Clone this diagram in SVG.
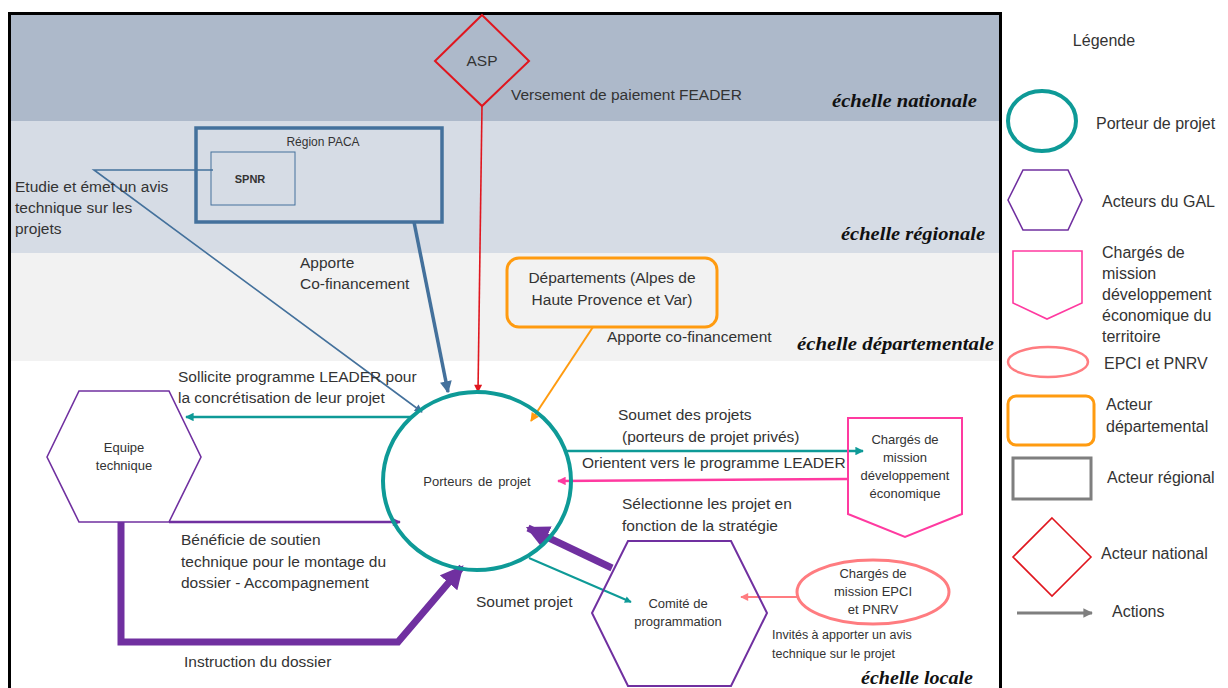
<svg xmlns="http://www.w3.org/2000/svg" width="1228" height="688" viewBox="0 0 1228 688">
<defs>
<style>
text{font-family:"Liberation Sans",Arial,sans-serif;fill:#333;}
.t{font-size:15.5px;}
.s{font-size:13px;}
.xs{font-size:12px;}
.iv{font-size:12.5px;}
.lg{font-size:16px;}
.mid{text-anchor:middle;}
.sc{font-family:"Liberation Serif","DejaVu Serif",serif;font-style:italic;font-weight:bold;font-size:19px;fill:#111;}
.teal{stroke:#0e9a97;fill:none;}
.purple{stroke:#7030a0;fill:none;}
.blue{stroke:#44719c;fill:none;}
.red{stroke:#e0161e;fill:none;}
.orange{stroke:#ff9b10;fill:none;}
.pink{stroke:#ff3aa0;fill:none;}
.salmon{stroke:#ff7c80;fill:none;}
.gray{stroke:#7f7f7f;fill:none;}
</style>
<marker id="aTeal" viewBox="0 0 10 10" refX="9" refY="5" markerWidth="4" markerHeight="3.4" orient="auto" markerUnits="strokeWidth"><path d="M0,0 L10,5 L0,10 z" fill="#0e9a97"/></marker>
<marker id="aPurple" viewBox="0 0 10 10" refX="9" refY="5" markerWidth="3.6" markerHeight="3.2" orient="auto" markerUnits="strokeWidth"><path d="M0,0 L10,5 L0,10 z" fill="#7030a0"/></marker>
<marker id="aPurpleBig" viewBox="0 0 10 10" refX="9" refY="5" markerWidth="3.3" markerHeight="3.3" orient="auto" markerUnits="strokeWidth"><path d="M0,0 L10,5 L0,10 z" fill="#7030a0"/></marker>
<marker id="aBlue" viewBox="0 0 10 10" refX="9" refY="5" markerWidth="3.6" markerHeight="3.4" orient="auto" markerUnits="strokeWidth"><path d="M0,0 L10,5 L0,10 z" fill="#44719c"/></marker>
<marker id="aBlueThin" viewBox="0 0 10 10" refX="9" refY="5" markerWidth="6" markerHeight="5" orient="auto" markerUnits="strokeWidth"><path d="M0,0 L10,5 L0,10 z" fill="#44719c"/></marker>
<marker id="aRed" viewBox="0 0 10 10" refX="9" refY="5" markerWidth="6" markerHeight="5" orient="auto" markerUnits="strokeWidth"><path d="M0,0 L10,5 L0,10 z" fill="#e0161e"/></marker>
<marker id="aOrange" viewBox="0 0 10 10" refX="9" refY="5" markerWidth="5" markerHeight="4.4" orient="auto" markerUnits="strokeWidth"><path d="M0,0 L10,5 L0,10 z" fill="#ff9b10"/></marker>
<marker id="aPink" viewBox="0 0 10 10" refX="9" refY="5" markerWidth="4" markerHeight="3.4" orient="auto" markerUnits="strokeWidth"><path d="M0,0 L10,5 L0,10 z" fill="#ff3aa0"/></marker>
<marker id="aSalmon" viewBox="0 0 10 10" refX="9" refY="5" markerWidth="4.4" markerHeight="4" orient="auto" markerUnits="strokeWidth"><path d="M0,0 L10,5 L0,10 z" fill="#ff7c80"/></marker>
<marker id="aGray" viewBox="0 0 10 10" refX="9" refY="5" markerWidth="3.6" markerHeight="3.2" orient="auto" markerUnits="strokeWidth"><path d="M0,0 L10,5 L0,10 z" fill="#7f7f7f"/></marker>
</defs>

<rect width="1228" height="688" fill="#ffffff"/>

<g id="bands">
<rect x="10" y="14" width="990" height="107" fill="#adb9ca"/>
<rect x="10" y="121" width="990" height="132" fill="#d6dce5"/>
<rect x="10" y="253" width="990" height="108" fill="#f2f2f2"/>
<rect x="10" y="361" width="990" height="340" fill="#ffffff"/>
<rect x="9.5" y="13.5" width="991" height="700" fill="none" stroke="#000" stroke-width="3"/>
<text class="sc" x="832" y="107" textLength="145" lengthAdjust="spacingAndGlyphs">échelle nationale</text>
<text class="sc" x="841" y="240" textLength="144" lengthAdjust="spacingAndGlyphs">échelle régionale</text>
<text class="sc" x="797" y="350" textLength="197" lengthAdjust="spacingAndGlyphs">échelle départementale</text>
<text class="sc" x="861" y="684" textLength="112" lengthAdjust="spacingAndGlyphs">échelle locale</text>
</g>

<g id="connectors">
<path class="red" stroke-width="1.6" d="M482,105 L478,392" marker-end="url(#aRed)"/>
<path class="blue" stroke-width="3.5" d="M414,222 L448,392" marker-end="url(#aBlue)"/>
<path class="blue" stroke-width="1.6" d="M213,170 L94,170 L422,412" marker-end="url(#aBlueThin)"/>
<path class="orange" stroke-width="2" d="M593,327 L531,421" marker-end="url(#aOrange)"/>
<path class="teal" stroke-width="2.5" d="M410,417 L186,417" marker-end="url(#aTeal)"/>
<path class="purple" stroke-width="2.5" d="M169,522 L400,522" marker-end="url(#aPurple)"/>
<path class="purple" stroke-width="7" stroke-linejoin="miter" d="M121,522 L121,642 L398,642 L462,567" marker-end="url(#aPurpleBig)"/>
<path class="teal" stroke-width="2.5" d="M565,451 L863,451" marker-end="url(#aTeal)"/>
<path class="pink" stroke-width="2.5" d="M847,479 L558,481" marker-end="url(#aPink)"/>
<path class="purple" stroke-width="7" d="M612,568 L528,528" marker-end="url(#aPurpleBig)"/>
<path class="teal" stroke-width="2" d="M529,558 L631,602" marker-end="url(#aTeal)"/>
<path class="salmon" stroke-width="2" d="M798,597 L741,597" marker-end="url(#aSalmon)"/>
<text class="t" x="511" y="100">Versement de paiement FEADER</text>
<text class="t" x="15" y="192">Etudie et émet un avis</text>
<text class="t" x="15" y="213">technique sur les</text>
<text class="t" x="15" y="234">projets</text>
<text class="t" x="300" y="268">Apporte</text>
<text class="t" x="300" y="289">Co-financement</text>
<text class="t" x="607" y="342">Apporte co-financement</text>
<text class="t" x="178" y="382">Sollicite programme LEADER pour</text>
<text class="t" x="178" y="403">la concrétisation de leur projet</text>
<text class="t" x="618" y="420">Soumet des projets</text>
<text class="t" x="622" y="442">(porteurs de projet privés)</text>
<text class="t" x="582" y="468">Orientent vers le programme LEADER</text>
<text class="t" x="622" y="509">Sélectionne les projet en</text>
<text class="t" x="622" y="531">fonction de la stratégie</text>
<text class="t" x="181" y="545">Bénéficie de soutien</text>
<text class="t" x="181" y="567">technique pour le montage du</text>
<text class="t" x="181" y="588">dossier - Accompagnement</text>
<text class="t" x="476" y="607">Soumet projet</text>
<text class="t" x="184" y="667">Instruction du dossier</text>
<text class="iv" x="772" y="639">Invités à apporter  un avis</text>
<text class="iv" x="772" y="658">technique  sur le projet</text>
</g>

<g id="asp">
<polygon class="red" stroke-width="2" points="482,15 529,61 482,106 435,61" fill="none"/>
<text class="t mid" x="482" y="66">ASP</text>
</g>

<g id="region-paca">
<rect class="blue" stroke-width="3.5" x="196" y="128" width="246" height="94"/>
<text class="xs mid" x="323" y="146">Région PACA</text>
</g>

<g id="spnr">
<rect class="blue" stroke-width="1" x="211" y="152" width="84" height="53"/>
<text class="mid" x="250" y="183" font-size="11" font-weight="bold" style="fill:#333">SPNR</text>
</g>

<g id="departements">
<rect class="orange" stroke-width="3" x="507" y="258" width="210" height="69" rx="12"/>
<text class="t mid" x="612" y="283">Départements (Alpes de</text>
<text class="t mid" x="612" y="305">Haute Provence et Var)</text>
</g>

<g id="porteurs">
<ellipse class="teal" stroke-width="4" cx="477" cy="481" rx="94" ry="89"/>
<text class="s mid" x="477" y="486" word-spacing="2">Porteurs de projet</text>
</g>

<g id="equipe">
<polygon class="purple" stroke-width="1.6" points="47,457 79,391 169,391 201,457 169,522 79,522"/>
<text class="s mid" x="124" y="452">Equipe</text>
<text class="s mid" x="124" y="470">technique</text>
</g>

<g id="charges-dev">
<polygon class="pink" stroke-width="2" points="848,418 962,418 962,514 905,537 848,514"/>
<text class="s mid" x="905" y="444">Chargés de</text>
<text class="s mid" x="905" y="462">mission</text>
<text class="s mid" x="905" y="480">développement</text>
<text class="s mid" x="905" y="498">économique</text>
</g>

<g id="comite">
<polygon class="purple" stroke-width="2" points="628,541 731,541 767,613 731,686 628,686 592,613"/>
<text class="s mid" x="678" y="608">Comité de</text>
<text class="s mid" x="678" y="626">programmation</text>
</g>

<g id="epci">
<ellipse class="salmon" stroke-width="3" cx="873" cy="592" rx="76" ry="32"/>
<text class="s mid" x="873" y="578">Chargés de</text>
<text class="s mid" x="873" y="596">mission EPCI</text>
<text class="s mid" x="873" y="614">et PNRV</text>
</g>

<g id="legend">
<text class="lg mid" x="1104" y="46">Légende</text>
<ellipse class="teal" stroke-width="4" cx="1042" cy="121" rx="34" ry="30"/>
<text class="lg" x="1096" y="129">Porteur de projet</text>
<polygon class="purple" stroke-width="1.6" points="1008,200 1023,170 1068,170 1082,200 1068,230 1023,230"/>
<text class="lg" x="1102" y="207">Acteurs du GAL</text>
<polygon class="pink" stroke-width="1.6" points="1013,251 1082,251 1082,303 1047,319 1013,303"/>
<text class="lg" x="1102" y="258">Chargés de</text>
<text class="lg" x="1102" y="279">mission</text>
<text class="lg" x="1102" y="300">développement</text>
<text class="lg" x="1102" y="321">économique du</text>
<text class="lg" x="1102" y="342">territoire</text>
<ellipse class="salmon" stroke-width="2.5" cx="1048" cy="362" rx="40" ry="15"/>
<text class="lg" x="1104" y="369">EPCI et PNRV</text>
<rect class="orange" stroke-width="3" x="1008" y="396" width="86" height="49" rx="8"/>
<text class="lg" x="1106" y="410">Acteur</text>
<text class="lg" x="1106" y="432">départemental</text>
<rect class="gray" stroke-width="3" x="1013" y="458" width="78" height="41"/>
<text class="lg" x="1107" y="483">Acteur régional</text>
<polygon class="red" stroke-width="1.6" points="1052,518 1091,557 1052,596 1013,557"/>
<text class="lg" x="1101" y="559">Acteur national</text>
<path class="gray" stroke-width="3" d="M1017,613 L1092,613" marker-end="url(#aGray)"/>
<text class="lg" x="1112" y="617">Actions</text>
</g>
</svg>
